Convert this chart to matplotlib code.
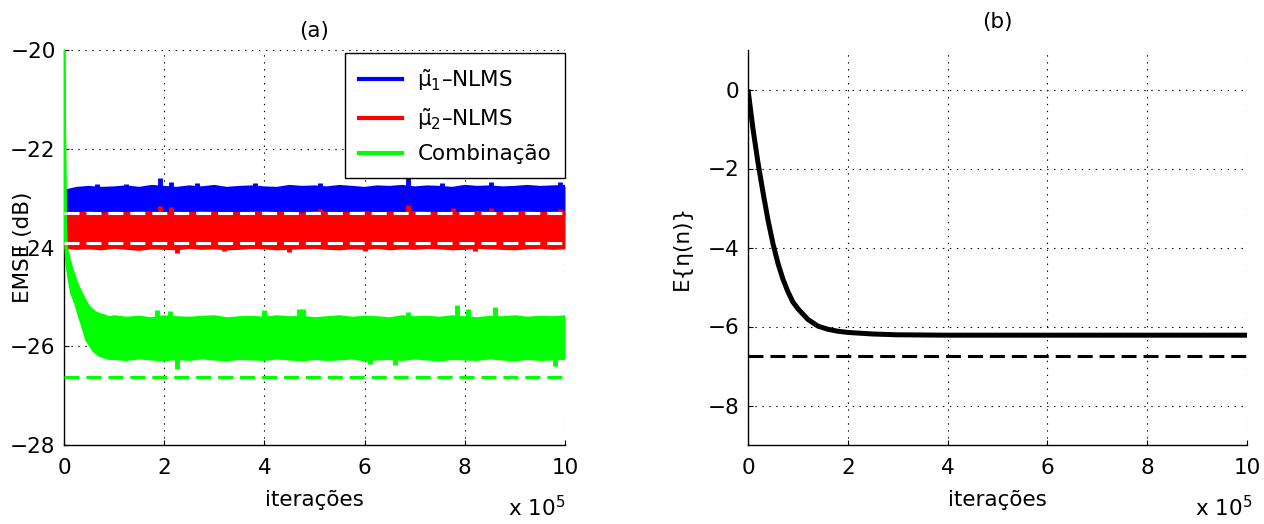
import matplotlib
matplotlib.use("Agg")
import matplotlib.pyplot as plt
from matplotlib.lines import Line2D

plt.rcParams['font.family'] = ['DejaVu Sans']
plt.rcParams['mathtext.fontset'] = 'custom'
plt.rcParams['mathtext.rm'] = 'DejaVu Sans'
plt.rcParams['mathtext.it'] = 'DejaVu Sans:italic'
plt.rcParams['mathtext.bf'] = 'DejaVu Sans:bold'
plt.rcParams['lines.scale_dashes'] = False
FS = 15.5
plt.rcParams['font.size'] = FS

# ---------------- data (x in units of 10^5 iterations) ----------------
xticks = [0, 2, 4, 6, 8, 10]
yticks_a = [-28, -26, -24, -22, -20]
yticks_b = [-8, -6, -4, -2, 0]

# steady-state grid for the noisy EMSE envelopes
grid_x = [0.0, 0.25, 0.5, 0.75, 1.0, 1.25, 1.5, 1.75, 2.0, 2.25, 2.5, 2.75, 3.0, 3.25,
          3.5, 3.75, 4.0, 4.25, 4.5, 4.75, 5.0, 5.25, 5.5, 5.75, 6.0, 6.25, 6.5, 6.75,
          7.0, 7.25, 7.5, 7.75, 8.0, 8.25, 8.5, 8.75, 9.0, 9.25, 9.5, 9.75, 10.0]

mu1_top = [-22.86, -22.80, -22.78, -22.80, -22.79, -22.77, -22.80, -22.76, -22.78, -22.80,
           -22.77, -22.79, -22.76, -22.80, -22.78, -22.77, -22.79, -22.80, -22.76, -22.78,
           -22.77, -22.79, -22.76, -22.78, -22.80, -22.77, -22.78, -22.76, -22.79, -22.77,
           -22.78, -22.80, -22.76, -22.78, -22.77, -22.79, -22.78, -22.76, -22.78, -22.77, -22.76]
mu1_bot = [-23.36, -23.34, -23.37, -23.33, -23.35, -23.36, -23.34, -23.33, -23.37, -23.35,
           -23.34, -23.36, -23.33, -23.35, -23.34, -23.37, -23.33, -23.35, -23.36, -23.34,
           -23.33, -23.35, -23.37, -23.34, -23.33, -23.36, -23.35, -23.34, -23.33, -23.36,
           -23.35, -23.34, -23.37, -23.33, -23.35, -23.34, -23.36, -23.33, -23.35, -23.34, -23.35]
mu2_top = [-23.30, -23.31, -23.29, -23.32, -23.30, -23.31, -23.29, -23.30, -23.32, -23.30,
           -23.31, -23.29, -23.30, -23.32, -23.31, -23.30, -23.29, -23.31, -23.30, -23.32,
           -23.29, -23.30, -23.31, -23.30, -23.29, -23.32, -23.30, -23.31, -23.29, -23.30,
           -23.31, -23.30, -23.32, -23.29, -23.30, -23.31, -23.30, -23.29, -23.31, -23.30, -23.29]
mu2_bot = [-24.00, -24.02, -24.01, -24.03, -24.00, -24.02, -24.04, -24.01, -24.02, -24.03,
           -24.00, -24.02, -24.01, -24.03, -24.02, -24.00, -24.01, -24.03, -24.02, -24.01,
           -24.00, -24.02, -24.03, -24.01, -24.02, -24.00, -24.03, -24.01, -24.02, -24.00,
           -24.01, -24.03, -24.02, -24.00, -24.01, -24.02, -24.03, -24.01, -24.00, -24.02, -24.01]

# combination: transient then steady band
comb_x = [0.0, 0.03, 0.05, 0.1, 0.15, 0.2, 0.25, 0.3, 0.35, 0.4, 0.45, 0.5, 0.6, 0.7, 0.8,
          0.9, 1.0, 1.25, 1.5, 1.75, 2.0, 2.25, 2.5, 2.75, 3.0, 3.25, 3.5, 3.75, 4.0, 4.25,
          4.5, 4.75, 5.0, 5.25, 5.5, 5.75, 6.0, 6.25, 6.5, 6.75, 7.0, 7.25, 7.5, 7.75, 8.0,
          8.25, 8.5, 8.75, 9.0, 9.25, 9.5, 9.75, 10.0]
comb_top = [-20.0, -23.4, -24.0, -24.2, -24.4, -24.55, -24.7, -24.82, -24.93, -25.03, -25.12,
            -25.2, -25.3, -25.35, -25.38, -25.42, -25.40, -25.43, -25.41, -25.44, -25.40,
            -25.42, -25.43, -25.41, -25.40, -25.44, -25.42, -25.41, -25.43, -25.40, -25.42,
            -25.41, -25.44, -25.42, -25.40, -25.43, -25.41, -25.42, -25.44, -25.40, -25.42,
            -25.41, -25.43, -25.40, -25.42, -25.44, -25.41, -25.42, -25.40, -25.43, -25.41,
            -25.42, -25.40]
comb_bot = [-20.0, -23.9, -24.3, -24.65, -24.93, -25.05, -25.2, -25.38, -25.53, -25.7, -25.87,
            -25.95, -26.1, -26.18, -26.22, -26.25, -26.25, -26.27, -26.24, -26.26, -26.28,
            -26.25, -26.27, -26.24, -26.26, -26.28, -26.25, -26.26, -26.27, -26.24, -26.26,
            -26.28, -26.25, -26.27, -26.26, -26.24, -26.28, -26.26, -26.25, -26.27, -26.24,
            -26.26, -26.28, -26.25, -26.26, -26.27, -26.24, -26.26, -26.28, -26.25, -26.27,
            -26.26, -26.25]

# isolated spikes of the noisy curves (x, extreme value)
mu1_spk_x = [0.65, 1.24, 1.92, 2.14, 2.65, 3.82, 5.1, 6.87, 7.55, 8.53, 9.9]
mu1_spk_y = [-22.71, -22.72, -22.60, -22.67, -22.70, -22.70, -22.70, -22.60, -22.69, -22.67, -22.67]
mu2_spk_x = [1.92, 2.14, 5.1, 6.87, 7.76, 8.53, 9.9]
mu2_spk_y = [-23.16, -23.18, -23.22, -23.14, -23.20, -23.20, -23.22]
mu2_dip_x = [2.25, 3.2, 4.5, 6.0, 8.2]
mu2_dip_y = [-24.11, -24.08, -24.10, -24.08, -24.08]
comb_spk_x = [1.85, 2.11, 3.99, 4.7, 4.78, 6.87, 7.84, 8.07, 8.6]
comb_spk_y = [-25.27, -25.28, -25.27, -25.25, -25.24, -25.30, -25.17, -25.24, -25.20]
comb_dip_x = [2.25, 6.1, 6.6, 9.8]
comb_dip_y = [-26.46, -26.35, -26.37, -26.40]

# theoretical levels
mu1_theory = -23.30
mu2_theory = -23.90
comb_theory = -26.62

# panel (b): E{eta(n)}
eta_x = [0.0, 0.05, 0.1, 0.2, 0.3, 0.4, 0.5, 0.6, 0.7, 0.8, 0.9, 1.0, 1.2, 1.4, 1.6,
         1.8, 2.0, 2.5, 3.0, 4.0, 5.0, 6.0, 7.0, 8.0, 9.0, 10.0]
eta_y = [0.0, -0.5, -1.0, -1.85, -2.6, -3.3, -3.9, -4.4, -4.8, -5.12, -5.38, -5.55, -5.82,
         -5.99, -6.07, -6.12, -6.15, -6.19, -6.21, -6.22, -6.22, -6.22, -6.22, -6.22, -6.22, -6.22]
eta_theory = -6.75

labels = [r'$\tilde{\mathrm{μ}}_{1}$–NLMS', r'$\tilde{\mathrm{μ}}_{2}$–NLMS', 'Combinação']
BLUE, RED, GREEN = '#0000ff', '#ff0000', '#00ff00'
DASH = (10.8, 5.0)

fig = plt.figure(figsize=(12.64, 5.24), dpi=100)
axa = fig.add_axes([64/1264, 1-445/524, 501/1264, 395/524])
axb = fig.add_axes([748/1264, 1-445/524, 499/1264, 395/524])


def style(ax):
    for s in ['top', 'right']:
        ax.spines[s].set_visible(False)
    for s in ['left', 'bottom']:
        ax.spines[s].set_linewidth(1.0)
    ax.tick_params(direction='in', length=3.5, width=0.8, labelsize=FS)
    ax.tick_params(axis='y', pad=6.0)
    ax.tick_params(axis='x', pad=9.0)
    ax.grid(True, color='k', linewidth=0.8, dashes=(1, 4))
    ax.set_axisbelow(True)


def band(ax, x, top, bot, spx, spy, dpx, dpy, color, z):
    ax.fill_between(x, bot, top, color=color, linewidth=0, zorder=z)
    ax.plot(x, top, color=color, lw=2.0, zorder=z)
    ax.plot(x, bot, color=color, lw=2.0, zorder=z)
    mid_top = sum(top[-20:]) / 20
    mid_bot = sum(bot[-20:]) / 20
    if spx:
        ax.vlines(spx, mid_top, spy, color=color, lw=3.5, zorder=z)
    if dpx:
        ax.vlines(dpx, mid_bot, dpy, color=color, lw=3.5, zorder=z)


# ---------- panel (a) ----------
style(axa)
band(axa, grid_x, mu1_top, mu1_bot, mu1_spk_x, mu1_spk_y, [], [], BLUE, 2)
band(axa, grid_x, mu2_top, mu2_bot, mu2_spk_x, mu2_spk_y, mu2_dip_x, mu2_dip_y, RED, 3)
band(axa, comb_x, comb_top, comb_bot, comb_spk_x, comb_spk_y, comb_dip_x, comb_dip_y, GREEN, 4)
axa.plot([0, 10], [mu1_theory, mu1_theory], color='white', lw=2.2, dashes=DASH, zorder=5)
axa.plot([0, 10], [mu2_theory, mu2_theory], color='white', lw=2.2, dashes=DASH, zorder=5)
axa.plot([0, 10], [comb_theory, comb_theory], color=GREEN, lw=2.2, dashes=DASH, zorder=5)
axa.set_xlim(0, 10)
axa.set_ylim(-28, -20)
axa.set_xticks(xticks)
axa.set_yticks(yticks_a)
axa.set_title('(a)', fontsize=FS, pad=9)
axa.set_xlabel('iterações', fontsize=FS, labelpad=9)
axa.set_ylabel('EMSE (dB)', fontsize=FS)
axa.yaxis.set_label_coords(-0.062, 0.5)
axa.text(1.0, -0.181, r'x 10$^{5}$', transform=axa.transAxes, ha='right', va='baseline', fontsize=FS)

handles = [Line2D([], [], color=c, lw=3) for c in (BLUE, RED, GREEN)]
leg = axa.legend(handles, labels, loc='upper right', bbox_to_anchor=(1.0, 0.993),
                 borderaxespad=0, fancybox=False, framealpha=1, edgecolor='k',
                 fontsize=FS, handlelength=2.0, handletextpad=0.7, labelspacing=0.6,
                 borderpad=0.65)
leg.get_frame().set_linewidth(1.0)
leg.set_zorder(10)

# ---------- panel (b) ----------
style(axb)
axb.plot(eta_x, eta_y, color='k', lw=3.6, zorder=3, solid_capstyle='butt')
axb.plot([0, 10], [eta_theory, eta_theory], color='k', lw=2.2, dashes=DASH, zorder=3)
axb.set_xlim(0, 10)
axb.set_ylim(-9, 1)
axb.set_xticks(xticks)
axb.set_yticks(yticks_b)
axb.set_title('(b)', fontsize=FS, pad=16)
axb.set_xlabel('iterações', fontsize=FS, labelpad=9)
axb.set_ylabel('E{η(n)}', fontsize=FS)
axb.yaxis.set_label_coords(-0.112, 0.5)
axb.text(1.01, -0.181, r'x 10$^{5}$', transform=axb.transAxes, ha='right', va='baseline', fontsize=FS)

fig.savefig('out.png', dpi=100)
